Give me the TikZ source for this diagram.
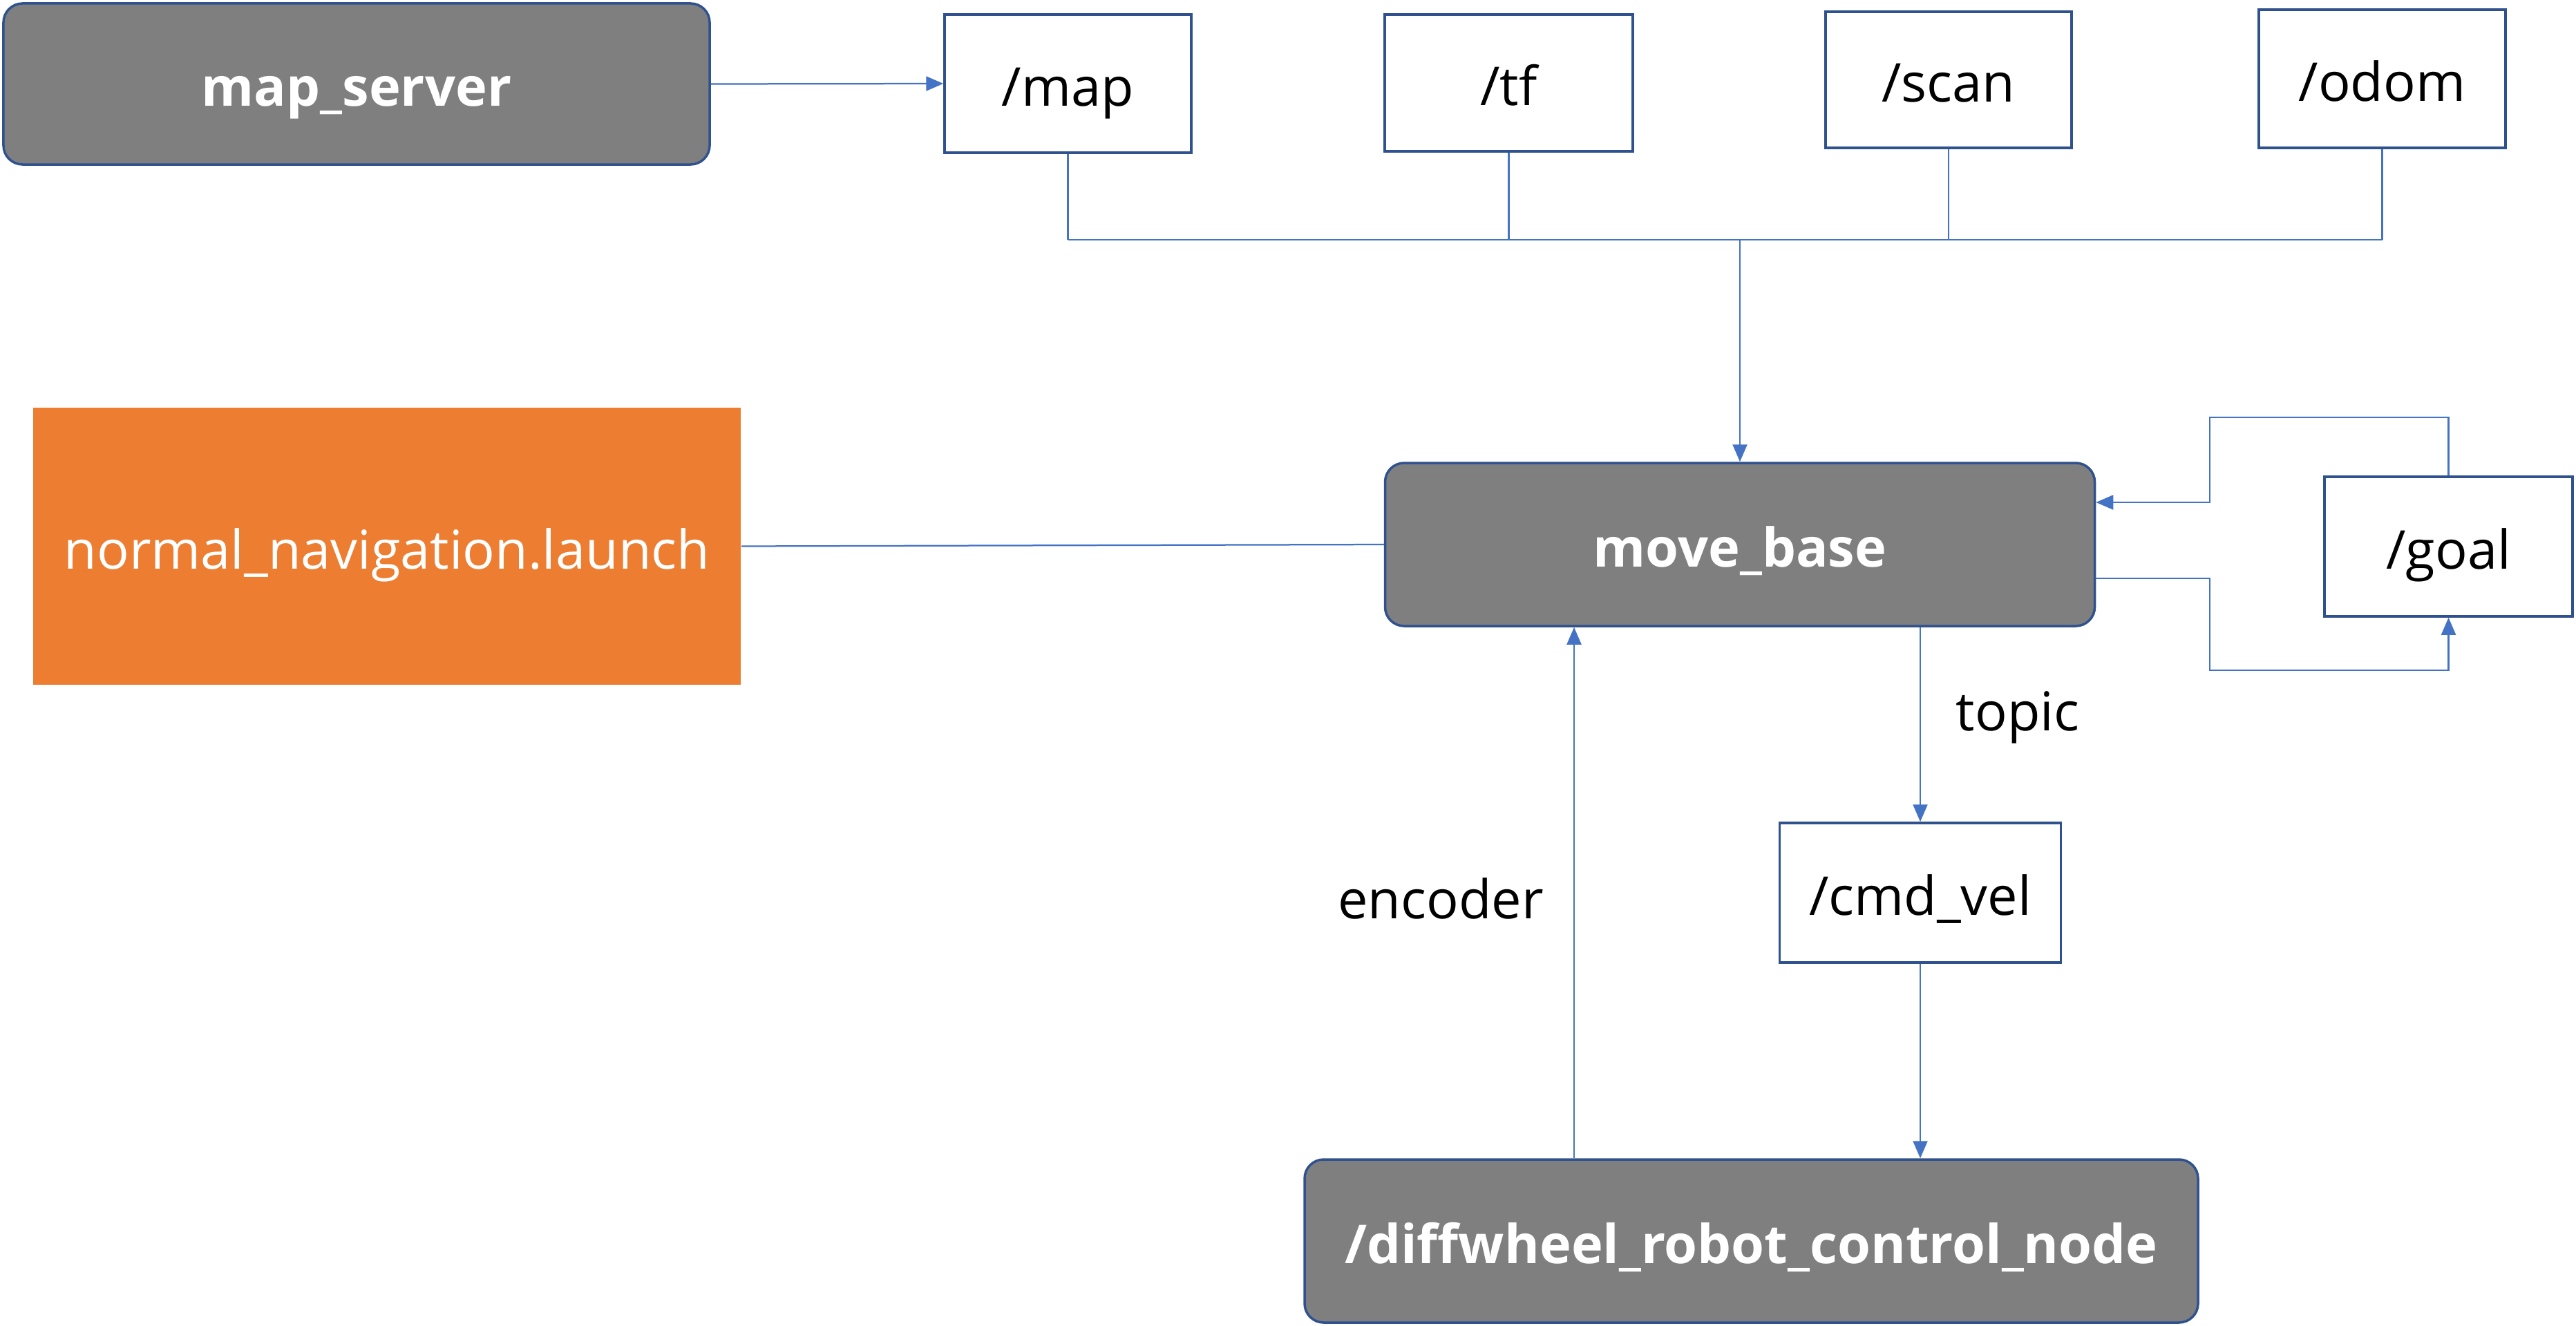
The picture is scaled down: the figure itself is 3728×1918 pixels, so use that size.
\documentclass[tikz,border=0pt]{standalone}
\usepackage{fontspec}
\setmainfont{Open Sans}
\usetikzlibrary{arrows.meta}
\definecolor{nodegray}{HTML}{7F7F7F}
\definecolor{edgeblue}{HTML}{2F528F}
\definecolor{linkblue}{HTML}{4472C4}
\definecolor{launchorange}{HTML}{ED7D31}
\tikzset{
  txtbox/.style={inner sep=0pt, text height=13pt, text depth=0pt},
  rosnode/.style={txtbox, draw=edgeblue, line width=0.7pt, fill=nodegray, rounded corners=5.5pt, text=white, font=\fontsize{15.5}{18}\selectfont\bfseries},
  topicbox/.style={txtbox, draw=edgeblue, line width=0.7pt, fill=white, text=black, font=\fontsize{15.5}{18}\selectfont},
  launchbox/.style={txtbox, fill=launchorange, text=white, font=\fontsize{15.5}{18}\selectfont},
  link/.style={draw=linkblue, line width=0.45pt},
  arr/.style={link, -{Triangle[length=5pt,width=4.2pt]}},
  lbl/.style={font=\fontsize{15.5}{18}\selectfont, text=black}
}
\begin{document}
\begin{tikzpicture}[x=0.2pt,y=-0.2pt]
\useasboundingbox (0,0) rectangle (3728,1918);
\node[rosnode, minimum width=204.4pt, minimum height=46.6pt] (ms) at (516,121.5) {map\_server};
\node[topicbox, minimum width=71.4pt, minimum height=40pt] (map) at (1545.5,121) {/map};
\node[topicbox, minimum width=71.8pt, minimum height=39.6pt] (tf) at (2183.5,120) {/tf};
\node[topicbox, minimum width=71.2pt, minimum height=39.4pt] (scan) at (2820,115.5) {/scan};
\node[topicbox, minimum width=71.4pt, minimum height=40pt] (odom) at (3447.5,114) {/odom};
\node[launchbox, minimum width=204.8pt, minimum height=80.2pt] (nav) at (560,790.5) {normal\_navigation.launch};
\node[rosnode, minimum width=205.4pt, minimum height=47.2pt] (mb) at (2518,788) {move\_base};
\node[topicbox, minimum width=71.8pt, minimum height=40.4pt] (goal) at (3543.5,791) {/goal};
\node[topicbox, minimum width=81.4pt, minimum height=40.4pt] (cmd) at (2779,1292) {/cmd\_vel};
\node[rosnode, minimum width=258.6pt, minimum height=47.2pt] (dw) at (2534.5,1796) {/diffwheel\_robot\_control\_node};
\node[lbl] (topic) at (2920,1038) {topic};
\node[lbl] (enc) at (2085,1300) {encoder};
\coordinate (bus) at (2518,347);
\coordinate (encx) at (2278,0);
\coordinate (loopx) at (3198,0);
\coordinate (toploop) at (0,604);
\coordinate (botloop) at (0,970);
\coordinate (inY) at (0,727);
\coordinate (outY) at (0,837);
% map_server -> /map
\draw[arr] (ms.east) -- (map.west);
% topic bus
\draw[link] (map.south) -- (map.south |- bus);
\draw[link] (tf.south) -- (tf.south |- bus);
\draw[link] (scan.south) -- (scan.south |- bus);
\draw[link] (odom.south) -- (odom.south |- bus);
\draw[link] (map.south |- bus) -- (odom.south |- bus);
\draw[arr] (bus) -- (mb.north);
% launch -- move_base
\draw[link] (nav.east) -- (mb.west);
% goal loops
\draw[arr] (goal.north) -- (goal.north |- toploop) -- (loopx |- toploop) -- (loopx |- inY) -- (mb.east |- inY);
\draw[arr] (mb.east |- outY) -- (loopx |- outY) -- (loopx |- botloop) -- (goal.south |- botloop) -- (goal.south);
% cmd_vel
\draw[arr] (mb.south -| cmd.north) -- (cmd.north);
\draw[arr] (cmd.south) -- (dw.north -| cmd.south);
% encoder
\draw[arr] (dw.north -| encx) -- (mb.south -| encx);
\end{tikzpicture}
\end{document}
